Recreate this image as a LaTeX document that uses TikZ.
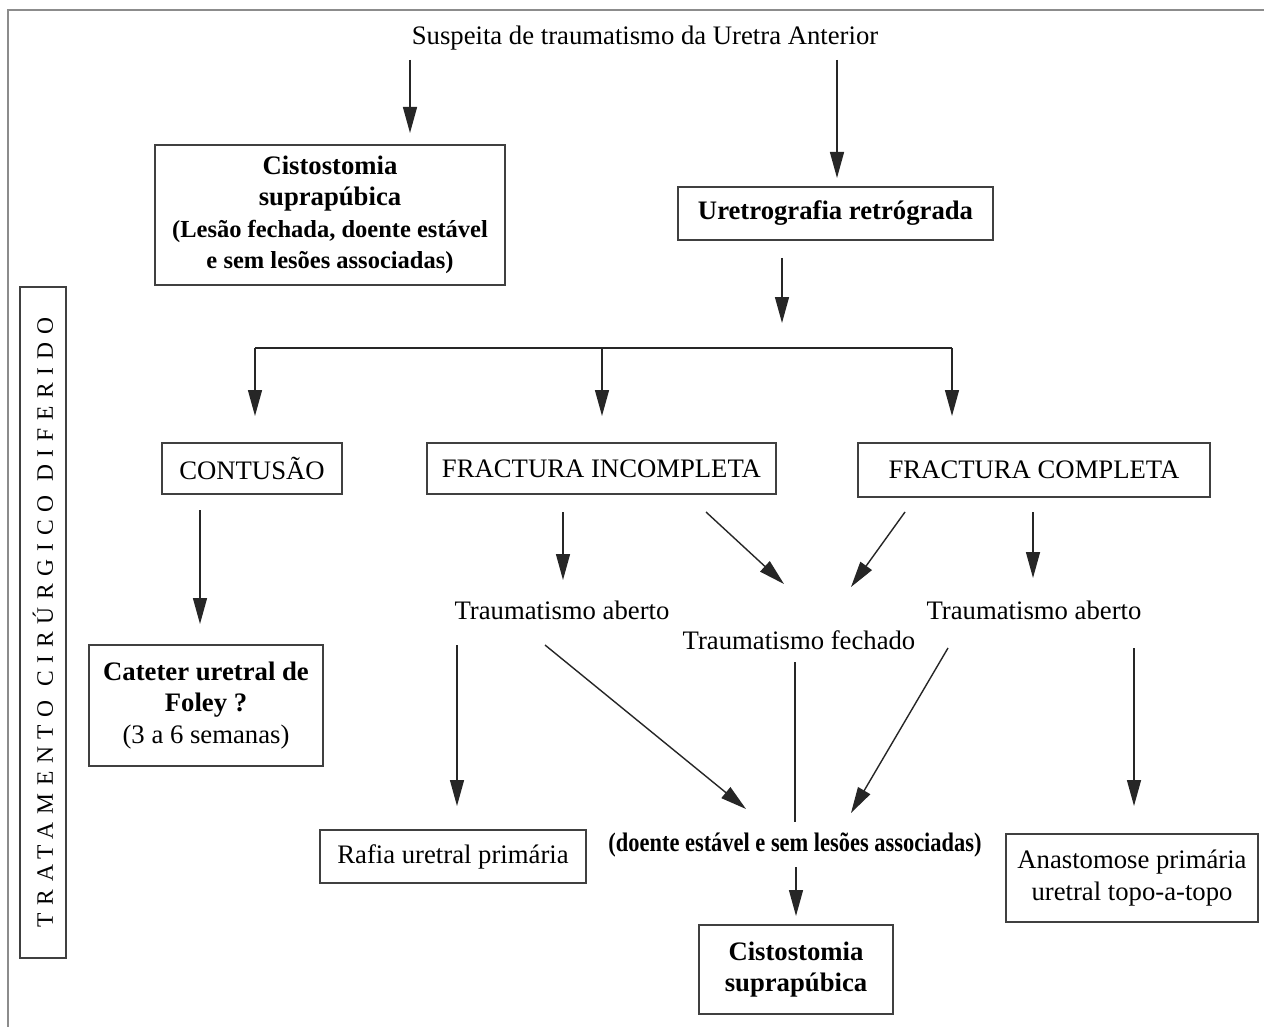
\documentclass[tikz,border=0pt]{standalone}
\usepackage{fontspec}
\setmainfont{Liberation Serif}
\usetikzlibrary{arrows.meta}
\begin{document}
\begin{tikzpicture}[x=1pt,y=-1pt,
  every node/.style={font=\fontsize{26.7}{31.5}\selectfont, text=black},
  box/.style={draw=black!75, line width=1.3pt, align=center, inner sep=0pt},
  arr/.style={draw=black!85, line width=1.4pt, -{Triangle[length=26pt,width=14pt]}},
  ln/.style={draw=black!85, line width=1.4pt},
  frame/.style={draw=black!45, line width=1.5pt}]
\useasboundingbox (0,0) rectangle (1264,1027);
\fill[white] (0,0) rectangle (1264,1027);
% outer frame lines
\coordinate (ftl) at (8,10);
\coordinate (ftr) at (1264,10);
\coordinate (fbl) at (8,1027);
\draw[frame] (ftr) -- (ftl) -- (fbl);

% nodes
\node (top) at (645,38) {Suspeita de traumatismo da Uretra Anterior};
\node[box, minimum width=350pt, minimum height=140pt] (c1) at (330,215)
  {\bfseries Cistostomia\\ \bfseries suprapúbica\\ \bfseries\fontsize{24.5}{31.5}\selectfont (Lesão fechada, doente estável\\ \bfseries\fontsize{24.5}{31.5}\selectfont e sem lesões associadas)};
\node[box, minimum width=315pt, minimum height=53pt] (ur) at (835.5,213.5) {\bfseries Uretrografia retrógrada};
\node[box, minimum width=180pt, minimum height=51pt] (ct) at (252,468.5) {CONTUSÃO};
\node[box, minimum width=349pt, minimum height=51pt] (fi) at (601.5,468.5) {FRACTURA INCOMPLETA};
\node[box, minimum width=352pt, minimum height=54pt] (fc) at (1034,470) {FRACTURA COMPLETA};
\node[box, minimum width=234pt, minimum height=121pt] (cat) at (206,705.5)
  {\bfseries Cateter uretral de\\ \bfseries Foley ?\\ (3 a 6 semanas)};
\node (ta1) at (562,610) {Traumatismo aberto};
\node (tf) at (799,640) {Traumatismo fechado};
\node (ta2) at (1034,610) {Traumatismo aberto};
\node[box, minimum width=266pt, minimum height=53pt] (raf) at (453,856.5) {Rafia uretral primária};
\node (dse) at (795,845) {\scalebox{0.84}[1]{\bfseries (doente estável e sem lesões associadas)}};
\node[box, minimum width=194pt, minimum height=89pt] (cis) at (796,969.5)
  {\bfseries Cistostomia\\ \bfseries suprapúbica};
\node[box, minimum width=252pt, minimum height=88pt] (ana) at (1132,878)
  {Anastomose primária\\ uretral topo-a-topo};
\node[box, minimum width=46pt, minimum height=671pt] (side) at (43,622.5) {};
\node[rotate=90, font=\fontsize{23.5}{26}\selectfont\addfontfeature{LetterSpace=33}] (sidet) at (side.center) {TRATAMENTO CIRÚRGICO DIFERIDO};

% connector end points
\coordinate (s1) at (410,60);   \coordinate (e1) at (410,133);
\coordinate (s2) at (837,60);   \coordinate (e2) at (837,178);
\coordinate (s3) at (782,258);  \coordinate (e3) at (782,323);
\coordinate (bl) at (255,348);  \coordinate (bm) at (602,348);  \coordinate (br) at (952,348);
\coordinate (dl) at (255,416);  \coordinate (dm) at (602,416);  \coordinate (dr) at (952,416);
\coordinate (s4) at (200,510);  \coordinate (e4) at (200,624);
\coordinate (s5) at (563,512);  \coordinate (e5) at (563,580);
\coordinate (s6) at (706,512);  \coordinate (e6) at (784,584);
\coordinate (s7) at (905,512);  \coordinate (e7) at (851,587);
\coordinate (s8) at (1033,512); \coordinate (e8) at (1033,578);
\coordinate (s9) at (457,645);  \coordinate (e9) at (457,806);
\coordinate (s10) at (545,645); \coordinate (e10) at (746,809);
\coordinate (s11) at (795,662); \coordinate (e11) at (795,822);
\coordinate (s12) at (948,648); \coordinate (e12) at (851,813);
\coordinate (s13) at (1134,648);\coordinate (e13) at (1134,806);
\coordinate (s14) at (796,867); \coordinate (e14) at (796,916);

\draw[arr] (s1) -- (e1);
\draw[arr] (s2) -- (e2);
\draw[arr] (s3) -- (e3);
\draw[ln] (bl) -- (br);
\draw[arr] (bl) -- (dl);
\draw[arr] (bm) -- (dm);
\draw[arr] (br) -- (dr);
\draw[arr] (s4) -- (e4);
\draw[arr] (s5) -- (e5);
\draw[arr] (s6) -- (e6);
\draw[arr] (s7) -- (e7);
\draw[arr] (s8) -- (e8);
\draw[arr] (s9) -- (e9);
\draw[arr] (s10) -- (e10);
\draw[ln] (s11) -- (e11);
\draw[arr] (s12) -- (e12);
\draw[arr] (s13) -- (e13);
\draw[arr] (s14) -- (e14);
\end{tikzpicture}
\end{document}
